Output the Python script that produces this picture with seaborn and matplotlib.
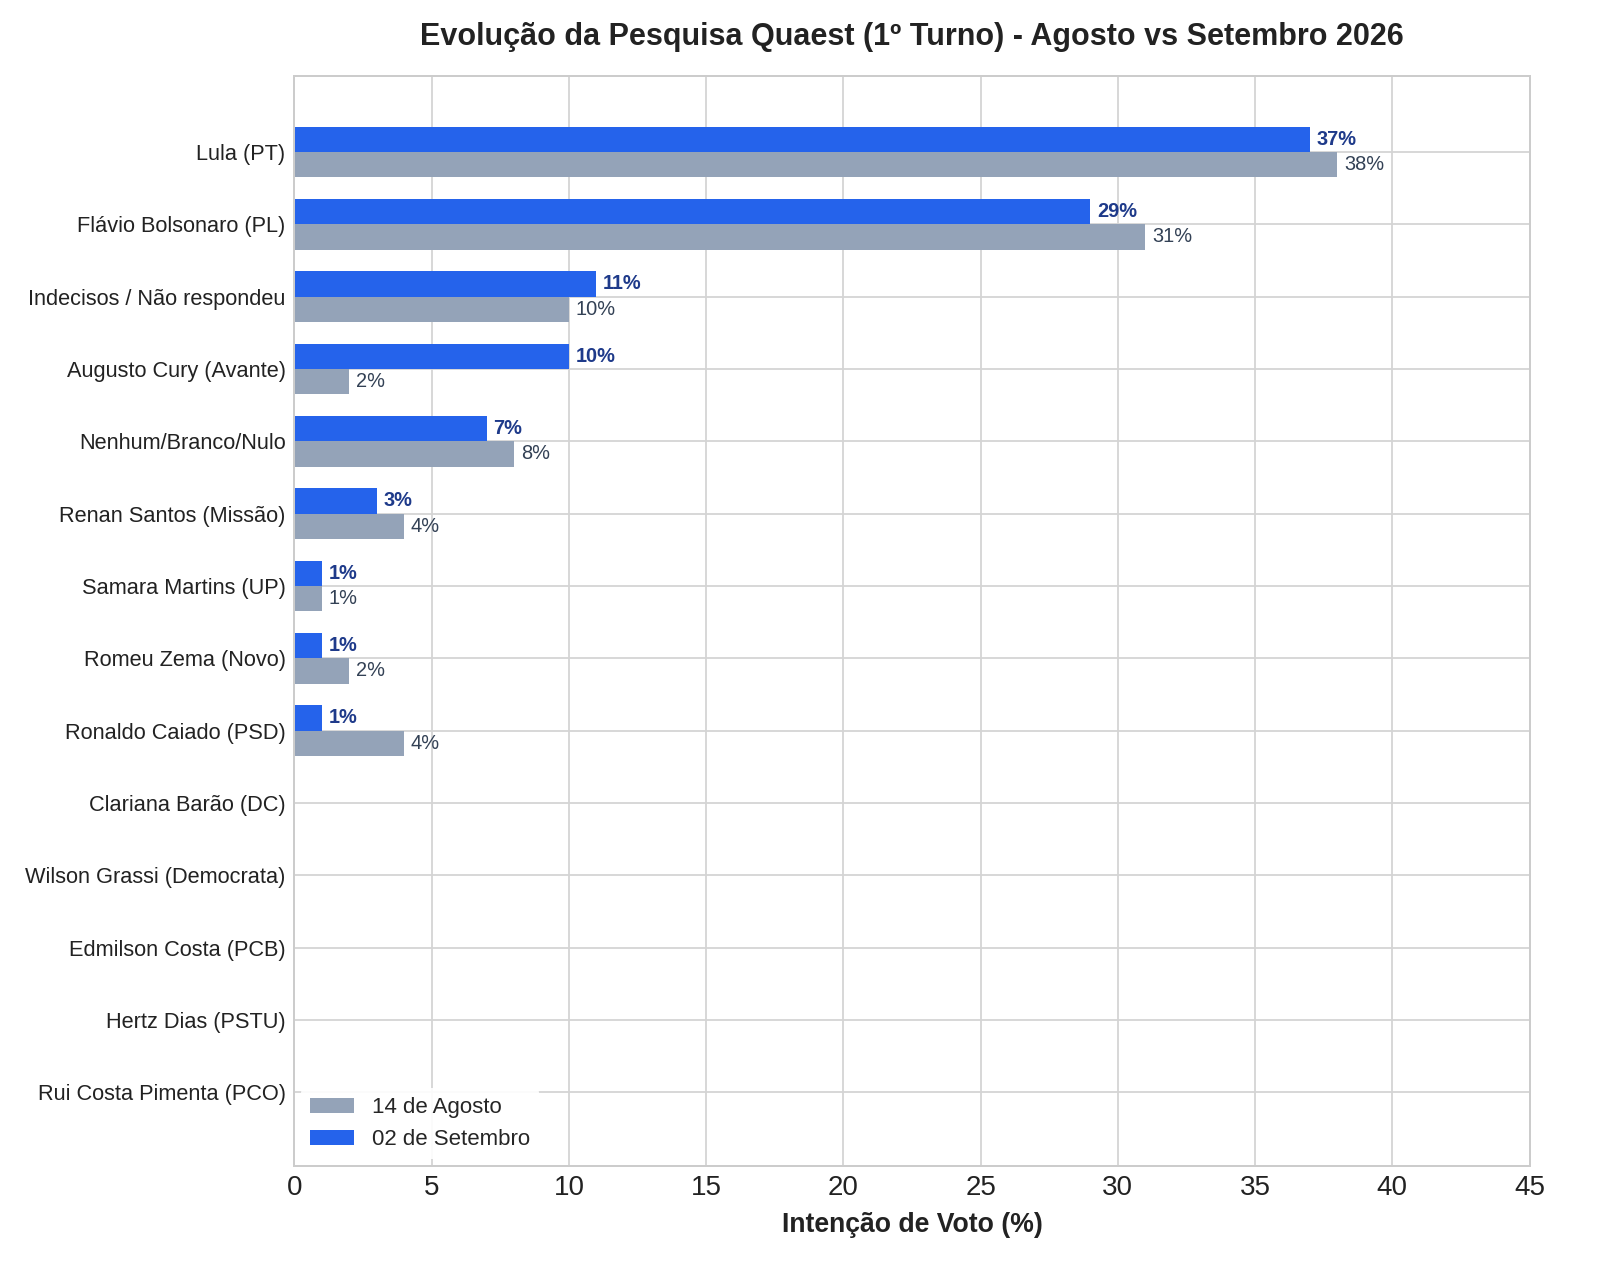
import matplotlib
matplotlib.use("Agg")
import matplotlib.pyplot as plt
import pandas as pd
import seaborn as sns

# Dados da pesquisa Quaest (1º turno)
candidatos = [
    "Lula (PT)",
    "Flávio Bolsonaro (PL)",
    "Indecisos / Não respondeu",
    "Augusto Cury (Avante)",
    "Nenhum/Branco/Nulo",
    "Renan Santos (Missão)",
    "Samara Martins (UP)",
    "Romeu Zema (Novo)",
    "Ronaldo Caiado (PSD)",
    "Clariana Barão (DC)",
    "Wilson Grassi (Democrata)",
    "Edmilson Costa (PCB)",
    "Hertz Dias (PSTU)",
    "Rui Costa Pimenta (PCO)",
]
agosto = [38, 31, 10, 2, 8, 4, 1, 2, 4, 0, 0, 0, 0, 0]
setembro = [37, 29, 11, 10, 7, 3, 1, 1, 1, 0, 0, 0, 0, 0]

rotulo_ago = "14 de Agosto"
rotulo_set = "02 de Setembro"
cor_ago = "#94a3b8"
cor_set = "#2563eb"

df = pd.DataFrame({
    "Candidato": candidatos * 2,
    "Pesquisa": [rotulo_set] * len(candidatos) + [rotulo_ago] * len(candidatos),
    "Voto": setembro + agosto,
})

sns.set_theme(style="whitegrid")
plt.rcParams["font.family"] = ["Liberation Sans", "DejaVu Sans"]

fig, ax = plt.subplots(figsize=(10, 8), dpi=160)
fig.subplots_adjust(left=0.184, right=0.956, top=0.9406, bottom=0.0891)

sns.barplot(
    data=df, y="Candidato", x="Voto", hue="Pesquisa",
    hue_order=[rotulo_set, rotulo_ago],
    palette={rotulo_set: cor_set, rotulo_ago: cor_ago},
    order=candidatos, width=0.7, orient="h", saturation=1,
    linewidth=0, ax=ax, legend=False,
)

# rótulos de valor
cont_set, cont_ago = ax.containers[0], ax.containers[1]
ax.bar_label(cont_set, labels=[f"{v}%" if v > 0 else "" for v in setembro],
             padding=3, fontsize=9, fontweight="bold", color="#1e3a8a")
ax.bar_label(cont_ago, labels=[f"{v}%" if v > 0 else "" for v in agosto],
             padding=3, fontsize=9, color="#334155")

ax.set_xlim(0, 45)
ax.set_ylim(len(candidatos) - 1 + 1.02, -1.05)
ax.grid(True, axis="both", color="#d4d4d4", linewidth=0.8)
ax.set_axisbelow(True)
for s in ax.spines.values():
    s.set_color("#cccccc")
    s.set_linewidth(0.9)

ax.tick_params(axis="y", labelsize=9.8, colors="#222222", length=0, pad=4)
ax.tick_params(axis="x", labelsize=12.5, colors="#222222", length=0, pad=4)
ax.set_ylabel("")
ax.set_xlabel("Intenção de Voto (%)", fontsize=12, fontweight="bold", color="#222222", labelpad=5)
ax.set_title("Evolução da Pesquisa Quaest (1º Turno) - Agosto vs Setembro 2026",
             fontsize=13.75, fontweight="bold", color="#222222", pad=14)

# legenda: Agosto primeiro
hs = [cont_ago.patches[0], cont_set.patches[0]]
leg = ax.legend(hs, [rotulo_ago, rotulo_set], loc="lower left", fontsize=10,
                frameon=True, framealpha=0.9, edgecolor="none", facecolor="white",
                borderaxespad=0.3)

plt.savefig("out.png", dpi=160)
